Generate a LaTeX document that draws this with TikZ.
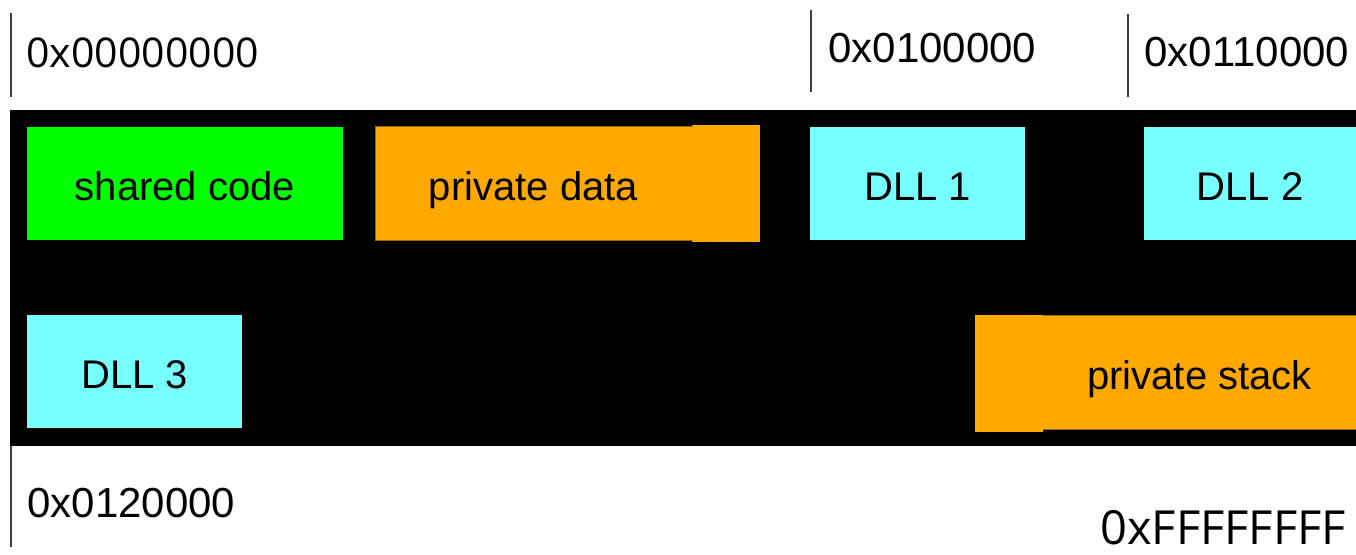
\documentclass[tikz,border=0pt]{standalone}
\usepackage{fontspec}
\setmainfont{Liberation Sans}
\newfontfamily\addrfont{Open Sans}
\usepackage{tikz}
\usetikzlibrary{positioning}
\definecolor{codegreen}{HTML}{00FF00}
\definecolor{privorange}{HTML}{FFA800}
\definecolor{dllcyan}{HTML}{77FFFF}
\tikzset{
    region/.style={rectangle, inner sep=0pt, outer sep=0pt, text height=17.5pt, text depth=0pt, font=\fontsize{20}{24}\selectfont},
    addr/.style={anchor=base west, inner sep=0pt, font=\fontsize{21}{25}\selectfont},
    tick/.style={line width=0.8pt, black!75}
}

\begin{document}
\begin{tikzpicture}[x=0.5pt, y=-0.5pt]
    \useasboundingbox (0,0) rectangle (1356,555);
        \fill[black] (10,110) rectangle (1356,446);

        \node[region, fill=codegreen, minimum width=158pt, minimum height=56.5pt] (shared) at (185,183.5) {shared code};
        \node[region, fill=privorange, minimum width=34pt, minimum height=58.5pt] (datastep) at (726,183.5) {};
        \node[region, fill=privorange, draw=privorange!60!black, line width=0.4pt, minimum width=158.5pt, minimum height=57pt] (data) at (533.5,183) {private data};
        \fill[privorange] (data.north east) ++(-1,1) rectangle ([xshift=0.5pt]data.south east);
        \node[region, fill=dllcyan, minimum width=107.5pt, minimum height=56.5pt] (dllone) at (917.5,183.5) {DLL 1};
        \node[region, fill=dllcyan, minimum width=106pt, minimum height=56.5pt] (dlltwo) at (1250,183.5) {DLL 2};
        \node[region, fill=dllcyan, minimum width=107.5pt, minimum height=56.5pt] (dllthree) at (134.5,371.5) {DLL 3};
        \node[region, fill=privorange, minimum width=34pt, minimum height=58.5pt] (stackstep) at (1009,373.5) {};
        \node[region, fill=privorange, draw=privorange!60!black, line width=0.4pt, minimum width=156.5pt, minimum height=57pt] (stack) at (1199.5,372) {private stack};
        \fill[privorange] (stack.north west) ++(-1,1) rectangle ([xshift=0.5pt]stack.south west);

        \coordinate (t0a) at (11,13);   \coordinate (t0b) at (11,97);
        \coordinate (t1a) at (811,10);  \coordinate (t1b) at (811,92);
        \coordinate (t2a) at (1128,14); \coordinate (t2b) at (1128,97);
        \coordinate (t3a) at (11,446);  \coordinate (t3b) at (11,547);
        \draw[tick] (t0a) -- (t0b);
        \draw[tick] (t1a) -- (t1b);
        \draw[tick] (t2a) -- (t2b);
        \draw[tick] (t3a) -- (t3b);

        \node[addr, font=\addrfont\fontsize{20.5}{24}\selectfont] (lowaddr) at (26,68) {0x00000000};
        \node[addr] (dlloneaddr) at (828,63) {0x0100000};
        \node[addr] (dlltwoaddr) at (1144,67) {0x0110000};
        \node[addr] (dllthreeaddr) at (27,518) {0x0120000};
        \node[addr, font=\addrfont\fontsize{23.5}{27}\selectfont] (highaddr) at (1100,545) {0xFFFFFFFF};
    \end{tikzpicture}
\end{document}
